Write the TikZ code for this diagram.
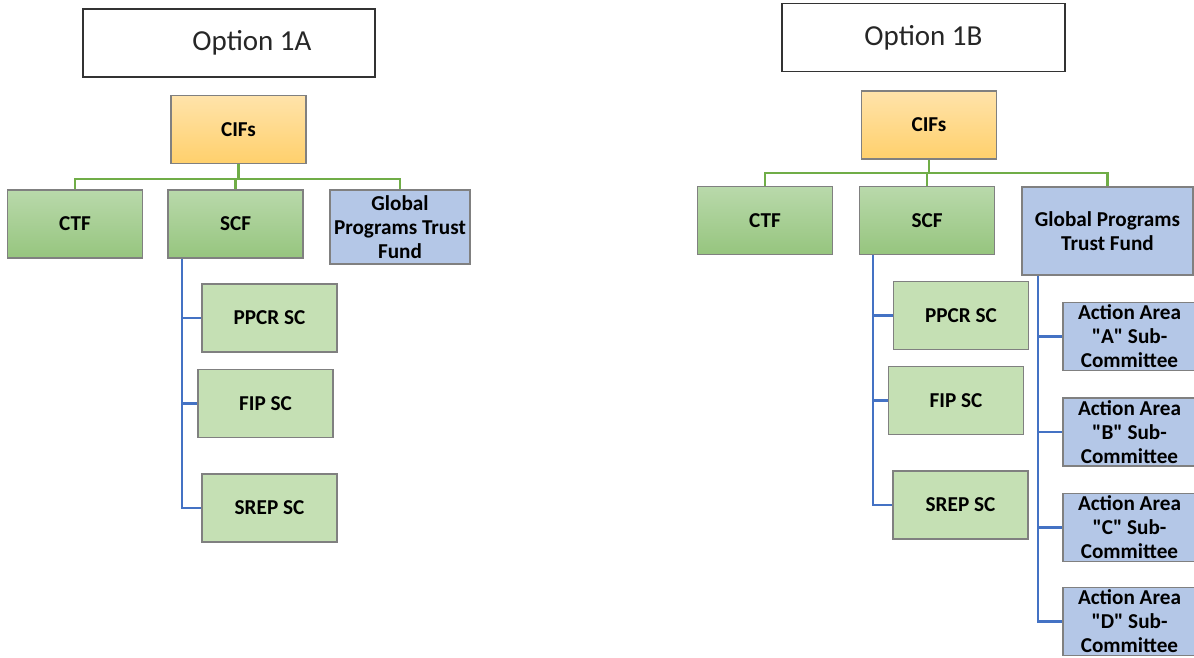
\documentclass[tikz,border=0pt]{standalone}
\usepackage{fontspec}
\setmainfont{Carlito}

\definecolor{boxgray}{HTML}{808080}
\definecolor{cifTop}{HTML}{FFE3AA}
\definecolor{cifBottom}{HTML}{FFD06C}
\definecolor{fundTop}{HTML}{B9D9AB}
\definecolor{fundBottom}{HTML}{96C57E}
\definecolor{subGreen}{HTML}{C5E0B4}
\definecolor{gptBlue}{HTML}{B4C7E7}
\definecolor{treeGreen}{HTML}{70AD47}
\definecolor{treeBlue}{HTML}{4472C4}

\begin{document}
\begin{tikzpicture}[
            x=0.5pt, y=-0.5pt,
            orgbox/.style={
                draw=boxgray,
                line width=0.75pt,
                align=center,
                inner sep=1pt,
                font=\fontsize{10.6pt}{12pt}\selectfont\bfseries,
                minimum width=67.5pt, minimum height=34pt
            },
            titlebox/.style={
                draw=black!80,
                line width=0.75pt,
                text=black!85,
                font=\fontsize{14.5pt}{17pt}\selectfont,
                minimum width=146pt, minimum height=34pt
            },
            cifbox/.style={orgbox, top color=cifTop, bottom color=cifBottom},
            fundbox/.style={orgbox, top color=fundTop, bottom color=fundBottom},
            subbox/.style={orgbox, fill=subGreen},
            gptbox/.style={orgbox, fill=gptBlue},
            greenline/.style={draw=treeGreen, line width=1.2pt},
            blueline/.style={draw=treeBlue, line width=1.2pt}
        ]
            \useasboundingbox (0,0) rectangle (1194,658);

            % Option 1A
            \node[titlebox, label={[titlebox, draw=none, xshift=11.5pt]center:Option 1A}] (titleA) at (229,43) {};
            \node[cifbox] (cifA) at (238.5,129.5) {CIFs};
            \node[fundbox] (ctfA) at (75,224) {CTF};
            \node[fundbox] (scfA) at (235.5,224) {SCF};
            \node[gptbox, minimum width=70pt, minimum height=37pt] (gptA) at (400,227) {Global\\Programs Trust\\Fund};
            \node[subbox] (ppcrA) at (269.5,318) {PPCR SC};
            \node[subbox] (fipA) at (265.5,403.5) {FIP SC};
            \node[subbox] (srepA) at (269.5,508) {SREP SC};

            \draw[greenline] (cifA.south) -- ++(0,15) coordinate (busA);
            \draw[greenline] (busA) -| (ctfA.north);
            \draw[greenline] (busA) -| (scfA.north);
            \draw[greenline] (busA) -| (gptA.north);
            \foreach \sub in {ppcrA, fipA, srepA}
                \draw[blueline] (scfA.south west) ++(15,0) |- (\sub.west);

            % Option 1B
            \node[titlebox, minimum width=141.5pt] (titleB) at (923.5,37.5) {Option 1B};
            \node[cifbox] (cifB) at (929,125) {CIFs};
            \node[fundbox] (ctfB) at (765,220.5) {CTF};
            \node[fundbox] (scfB) at (927,220.5) {SCF};
            \node[gptbox, minimum width=85.5pt, minimum height=44pt] (gptB) at (1107.5,231) {Global Programs\\Trust Fund};
            \node[subbox] (ppcrB) at (961,315.5) {PPCR SC};
            \node[subbox] (fipB) at (956,400.5) {FIP SC};
            \node[subbox] (srepB) at (960.5,505) {SREP SC};
            \node[gptbox, minimum width=66.5pt] (actA) at (1129.5,336.5) {Action Area\\\textquotedbl A\textquotedbl{} Sub-\\Committee};
            \node[gptbox, minimum width=66.5pt] (actB) at (1129.5,432) {Action Area\\\textquotedbl B\textquotedbl{} Sub-\\Committee};
            \node[gptbox, minimum width=66.5pt] (actC) at (1129.5,527.5) {Action Area\\\textquotedbl C\textquotedbl{} Sub-\\Committee};
            \node[gptbox, minimum width=66.5pt] (actD) at (1129.5,621.5) {Action Area\\\textquotedbl D\textquotedbl{} Sub-\\Committee};

            \draw[greenline] (cifB.south) -- ++(0,13) coordinate (busB);
            \draw[greenline] (busB) -| (ctfB.north);
            \draw[greenline] (busB) -| (scfB.north);
            \draw[greenline] (busB) -| (gptB.north);
            \foreach \sub in {ppcrB, fipB, srepB}
                \draw[blueline] (scfB.south west) ++(14,0) |- (\sub.west);
            \foreach \sub in {actA, actB, actC, actD}
                \draw[blueline] (gptB.south west) ++(17,0) |- (\sub.west);

        \end{tikzpicture}
\end{document}
